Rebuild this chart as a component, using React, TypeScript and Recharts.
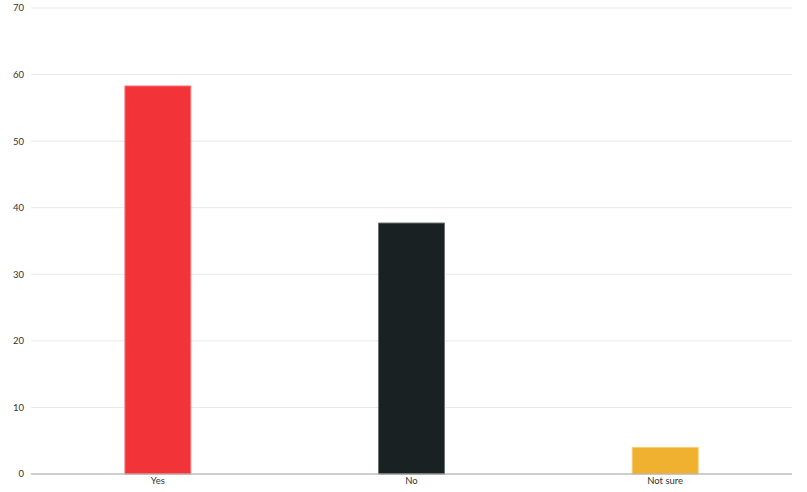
import React from "react";
import { BarChart, Bar, XAxis, YAxis, CartesianGrid, Cell } from "recharts";

const categories = ["Yes", "No", "Not sure"];
const values = [58.3, 37.7, 4.0];
const colors = ["#f23338", "#1a2122", "#f0b030"];
const strokes = ["#f58a8d", "#6b7070", "#f7cf7a"];
const yTicks = [0, 10, 20, 30, 40, 50, 60, 70];

const data = categories.map((c, i) => ({ name: c, value: values[i] }));

export default function App() {
  return (
    <div style={{ position: "absolute", left: 0, top: 0, width: 807, height: 492, background: "#fff" }}>
      <BarChart
        width={807}
        height={492}
        data={data}
        margin={{ top: 8, right: 15, bottom: 0, left: 0 }}
        barCategoryGap="37%"
      >
        <CartesianGrid vertical={false} stroke="#e8e8e8" />
        <XAxis
          dataKey="name"
          height={18}
          tickLine={false}
          tickSize={0}
          tickMargin={3}
          axisLine={{ stroke: "#aaaaaa" }}
          tick={{ fontSize: 9.5, fill: "#333", fontFamily: "Lato" }}
        />
        <YAxis
          width={31}
          domain={[0, 70]}
          ticks={yTicks}
          tickLine={false}
          axisLine={false}
          tickSize={0}
          tickMargin={7}
          tick={{ fontSize: 9.5, fill: "#333", fontFamily: "Lato" }}
        />
        <Bar dataKey="value" isAnimationActive={false} strokeWidth={1}>
          {data.map((d, i) => (
            <Cell key={d.name} fill={colors[i]} stroke={strokes[i]} />
          ))}
        </Bar>
      </BarChart>
    </div>
  );
}
